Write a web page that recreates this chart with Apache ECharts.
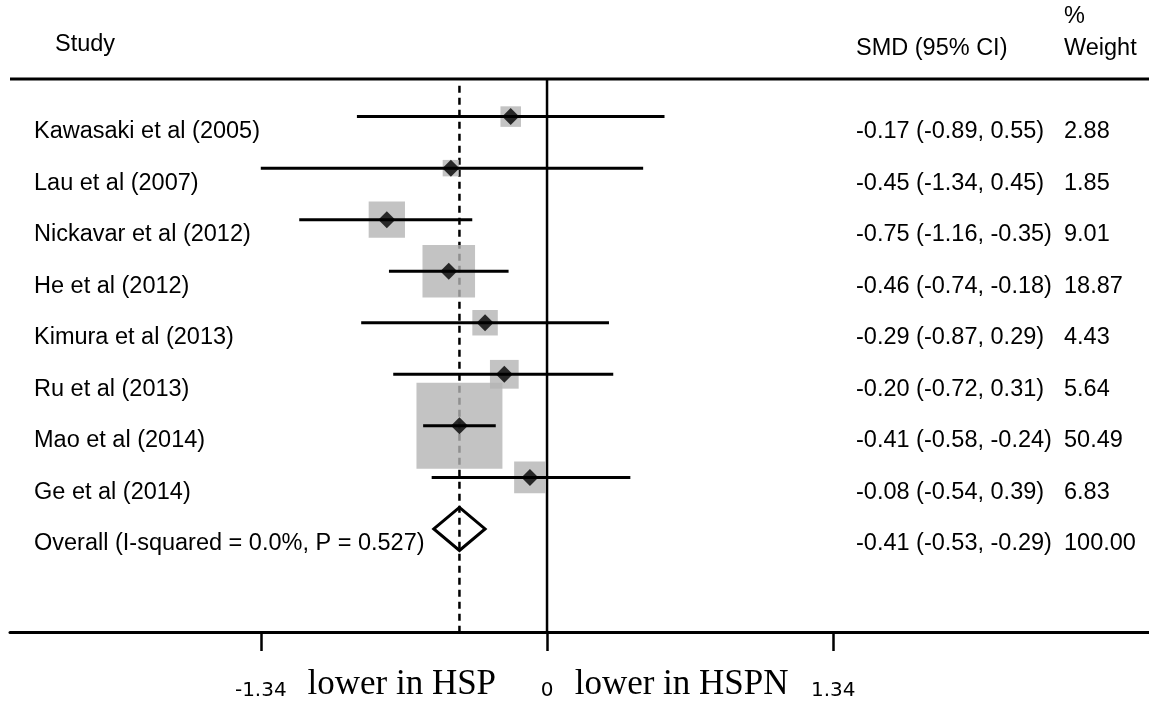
<!DOCTYPE html>
<html><head><meta charset="utf-8">
<script src="https://cdn.jsdelivr.net/npm/echarts@6/dist/echarts.min.js"></script>
<style>html,body{margin:0;padding:0;background:#fff}#c{width:1149px;height:702px}</style>
</head><body><div id="c"></div>
<script>
// ---- data ----
const studies = ['Kawasaki et al (2005)', 'Lau et al (2007)', 'Nickavar et al (2012)', 'He et al (2012)',
  'Kimura et al (2013)', 'Ru et al (2013)', 'Mao et al (2014)', 'Ge et al (2014)'];
const smd = [-0.17, -0.45, -0.75, -0.46, -0.29, -0.20, -0.41, -0.08];
const ciLower = [-0.89, -1.34, -1.16, -0.74, -0.87, -0.72, -0.58, -0.54];
const ciUpper = [0.55, 0.45, -0.35, -0.18, 0.29, 0.31, -0.24, 0.39];
const weights = [2.88, 1.85, 9.01, 18.87, 4.43, 5.64, 50.49, 6.83];
const overallLabel = 'Overall (I-squared = 0.0%, P = 0.527)';
const overallSMD = -0.41, overallLower = -0.53, overallUpper = -0.29, overallWeight = 100.00;
const tickValues = [-1.34, 0, 1.34];
const tickLabels = ['-1.34', '0', '1.34'];
const directionLabels = ['lower in HSP', 'lower in HSPN'];
const headers = { study: 'Study', smd: 'SMD (95% CI)', pct: '%', weight: 'Weight' };

// ---- chart ----
const SANS = '"Liberation Sans", Arial, sans-serif';
const SERIF = '"Liberation Serif", "Times New Roman", serif';
const FS = 23.5;
const FONT = FS + 'px ' + SANS;
const fmt = v => v.toFixed(2);
const overallRow = studies.length;
const dirPos = [-0.68, 0.63];
const labelMap = {};
tickValues.forEach((v, i) => labelMap[v.toFixed(2)] = '{s|' + tickLabels[i] + '}');
dirPos.forEach((v, i) => labelMap[v.toFixed(2)] = '{b|' + directionLabels[i] + '}');

const textRows = [];
studies.forEach((s, i) => {
  textRows.push({ value: [34, i], t: s });
  textRows.push({ value: [856, i], t: fmt(smd[i]) + ' (' + fmt(ciLower[i]) + ', ' + fmt(ciUpper[i]) + ')' });
  textRows.push({ value: [1064, i], t: fmt(weights[i]) });
});
textRows.push({ value: [34, overallRow], t: overallLabel });
textRows.push({ value: [856, overallRow], t: fmt(overallSMD) + ' (' + fmt(overallLower) + ', ' + fmt(overallUpper) + ')' });
textRows.push({ value: [1064, overallRow], t: fmt(overallWeight) });

const chart = echarts.init(document.getElementById('c'), null, { renderer: 'canvas' });
chart.setOption({
  animation: false,
  backgroundColor: '#fff',
  grid: { left: 10, right: 0, top: 80, bottom: 67.5, containLabel: false },
  xAxis: [{
    type: 'value', min: -2.514, max: 2.818,
    axisLine: { show: true, onZero: false, lineStyle: { color: '#000', width: 3 } },
    axisTick: { show: true, customValues: tickValues, length: 19, lineStyle: { color: '#000', width: 2.5 } },
    axisLabel: {
      show: true, customValues: tickValues.concat(dirPos), margin: 70, verticalAlign: 'bottom',
      formatter: v => labelMap[v.toFixed(2)] || '',
      rich: {
        s: { fontFamily: '"DejaVu Sans", sans-serif', fontSize: 20, color: '#000', padding: [0, 0, 1, 0] },
        b: { fontFamily: SERIF, fontSize: 35, color: '#000' }
      }
    },
    splitLine: { show: false }
  }, {
    type: 'value', min: 10, max: 1149, show: false
  }],
  yAxis: [{ type: 'value', inverse: true, min: -0.71, max: 10, show: false, splitLine: { show: false } }],
  series: [
    { type: 'line', data: [[0, -0.71], [0, 10]], symbol: 'none', lineStyle: { color: '#000', width: 2.5 }, z: 1, silent: true },
    { type: 'line', data: [[overallSMD, -0.6], [overallSMD, 10]], symbol: 'none', lineStyle: { color: '#000', width: 2.5, type: [7, 5] }, z: 1, silent: true },
    { type: 'scatter', data: smd.map((v, i) => [v, i, weights[i]]), symbol: 'rect',
      symbolSize: d => 12.1 * Math.sqrt(d[2]), itemStyle: { color: '#b4b4b4' }, z: 2, silent: true },
    { type: 'custom', z: 3, silent: true,
      data: ciLower.map((lo, i) => [lo, ciUpper[i], i]), encode: { x: [0, 1], y: 2 },
      renderItem: (p, api) => {
        const a = api.coord([api.value(0), api.value(2)]);
        const b = api.coord([api.value(1), api.value(2)]);
        return { type: 'line', shape: { x1: a[0], y1: a[1], x2: b[0], y2: b[1] }, style: { stroke: '#000', lineWidth: 3 } };
      } },
    { type: 'scatter', data: smd.map((v, i) => [v, i]), symbol: 'diamond', symbolSize: 17, itemStyle: { color: '#000' }, z: 4, silent: true },
    { type: 'custom', z: 4, silent: true,
      data: [[overallLower, overallSMD, overallUpper, overallRow]], encode: { x: [0, 1, 2], y: 3 },
      renderItem: (p, api) => {
        const l = api.coord([api.value(0), api.value(3)]);
        const m = api.coord([api.value(1), api.value(3)]);
        const r = api.coord([api.value(2), api.value(3)]);
        const h = 21.5;
        return { type: 'polygon', shape: { points: [[l[0], l[1]], [m[0], m[1] - h], [r[0], r[1]], [m[0], m[1] + h]] },
          style: { fill: 'rgba(0,0,0,0)', stroke: '#000', lineWidth: 3 } };
      } },
    { type: 'custom', xAxisIndex: 1, yAxisIndex: 0, clip: false, silent: true, z: 5,
      data: textRows, encode: { x: 0, y: 1 },
      renderItem: (p, api) => {
        const c = api.coord([api.value(0), api.value(1)]);
        return { type: 'text', x: c[0], y: c[1] + 15,
          style: { text: textRows[p.dataIndex].t, font: FONT, fill: '#000', align: 'left', verticalAlign: 'middle' } };
      } }
  ],
  graphic: [
    { type: 'line', shape: { x1: 10, y1: 79, x2: 1149, y2: 79 }, style: { stroke: '#000', lineWidth: 3 } },
    { type: 'text', x: 55, y: 45, style: { text: headers.study, font: FONT, fill: '#000', verticalAlign: 'middle' } },
    { type: 'text', x: 856, y: 49, style: { text: headers.smd, font: FONT, fill: '#000', verticalAlign: 'middle' } },
    { type: 'text', x: 1064, y: 17, style: { text: headers.pct, font: FONT, fill: '#000', verticalAlign: 'middle' } },
    { type: 'text', x: 1064, y: 49, style: { text: headers.weight, font: FONT, fill: '#000', verticalAlign: 'middle' } }
  ]
});
</script>
</body></html>
